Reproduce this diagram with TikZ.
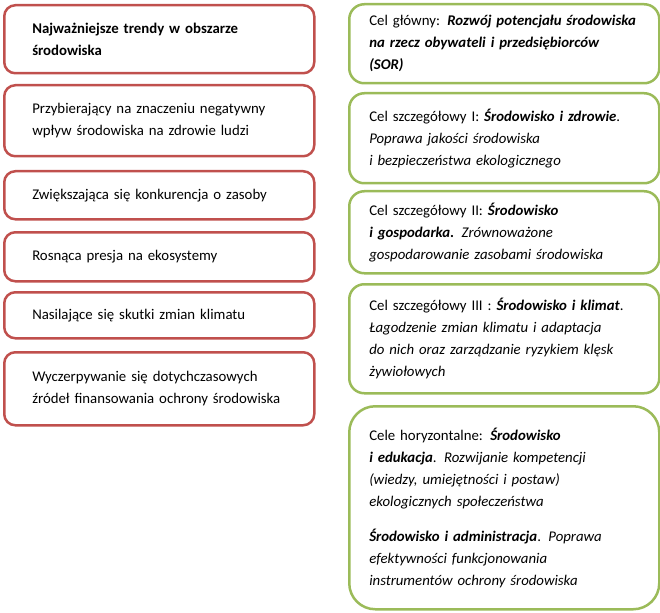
\documentclass[tikz,border=0pt]{standalone}
\usepackage{fontspec}
\setmainfont{Carlito}
\usetikzlibrary{positioning}
\definecolor{trendred}{RGB}{192,80,77}
\definecolor{celgreen}{RGB}{155,187,89}

\begin{document}
\begin{tikzpicture}[x=1pt,y=-1pt,
	trend/.style={draw=trendred, line width=2.5pt, rounded corners=11pt, anchor=north west,
		text width=254pt, inner xsep=28pt, inner ysep=0pt, align=left,
		font=\fontsize{14.8}{22}\selectfont},
	cel/.style={draw=celgreen, line width=2.5pt, rounded corners=15pt, anchor=north west,
		text width=270pt, inner xsep=20pt, inner ysep=0pt, align=left,
		font=\fontsize{14.8}{22}\selectfont}]
	
	\useasboundingbox (0,0) rectangle (660,612);
	
	% trendy
	\node[trend, minimum height=68pt] (t1) at (3,4) {\textbf{Najważniejsze trendy w obszarze}\\\textbf{środowiska}};
	\node[trend, minimum height=71pt] (t2) at (3,84) {Przybierający na znaczeniu negatywny\\wpływ środowiska na zdrowie ludzi};
	\node[trend, minimum height=48pt] (t3) at (3,170) {Zwiększająca się konkurencja o zasoby};
	\node[trend, minimum height=49pt] (t4) at (3,231) {Rosnąca presja na ekosystemy};
	\node[trend, minimum height=46pt] (t5) at (3,291) {Nasilające się skutki zmian klimatu};
	\node[trend, minimum height=73pt] (t6) at (3,351) {Wyczerpywanie się dotychczasowych\\źródeł finansowania ochrony środowiska};
	
	% cele
	\node[cel, minimum height=79pt] (c1) at (348,3) {Cel główny: \textbf{\textit{Rozwój potencjału środowiska}}\\\textbf{\textit{na rzecz obywateli i przedsiębiorców}}\\\textbf{\textit{(SOR)}}};
	\node[cel, minimum height=90pt] (c2) at (348,92) {Cel szczegółowy I: \textbf{\textit{Środowisko i zdrowie}}.\\\textit{Poprawa jakości środowiska}\\\textit{i bezpieczeństwa ekologicznego}};
	\node[cel, minimum height=82pt] (c3) at (348,190) {Cel szczegółowy II: \textbf{\textit{Środowisko}}\\\textbf{\textit{i gospodarka.}} \textit{Zrównoważone}\\\textit{gospodarowanie zasobami środowiska}};
	\node[cel, minimum height=109pt] (c4) at (348,283) {Cel szczegółowy III : \textbf{\textit{Środowisko i klimat}}.\\\textit{Łagodzenie zmian klimatu i adaptacja}\\\textit{do nich oraz zarządzanie ryzykiem klęsk}\\\textit{żywiołowych}};
	\node[cel, minimum height=203pt, rounded corners=26pt] (c5) at (348,405) {Cele horyzontalne: \textbf{\textit{Środowisko}}\\\textbf{\textit{i edukacja}}. \textit{Rozwijanie kompetencji}\\\textit{(wiedzy, umiejętności i postaw)}\\\textit{ekologicznych społeczeństwa}\\[13pt]\textbf{\textit{Środowisko i administracja}}. \textit{Poprawa}\\\textit{efektywności funkcjonowania}\\\textit{instrumentów ochrony środowiska}};
	
\end{tikzpicture}
\end{document}
